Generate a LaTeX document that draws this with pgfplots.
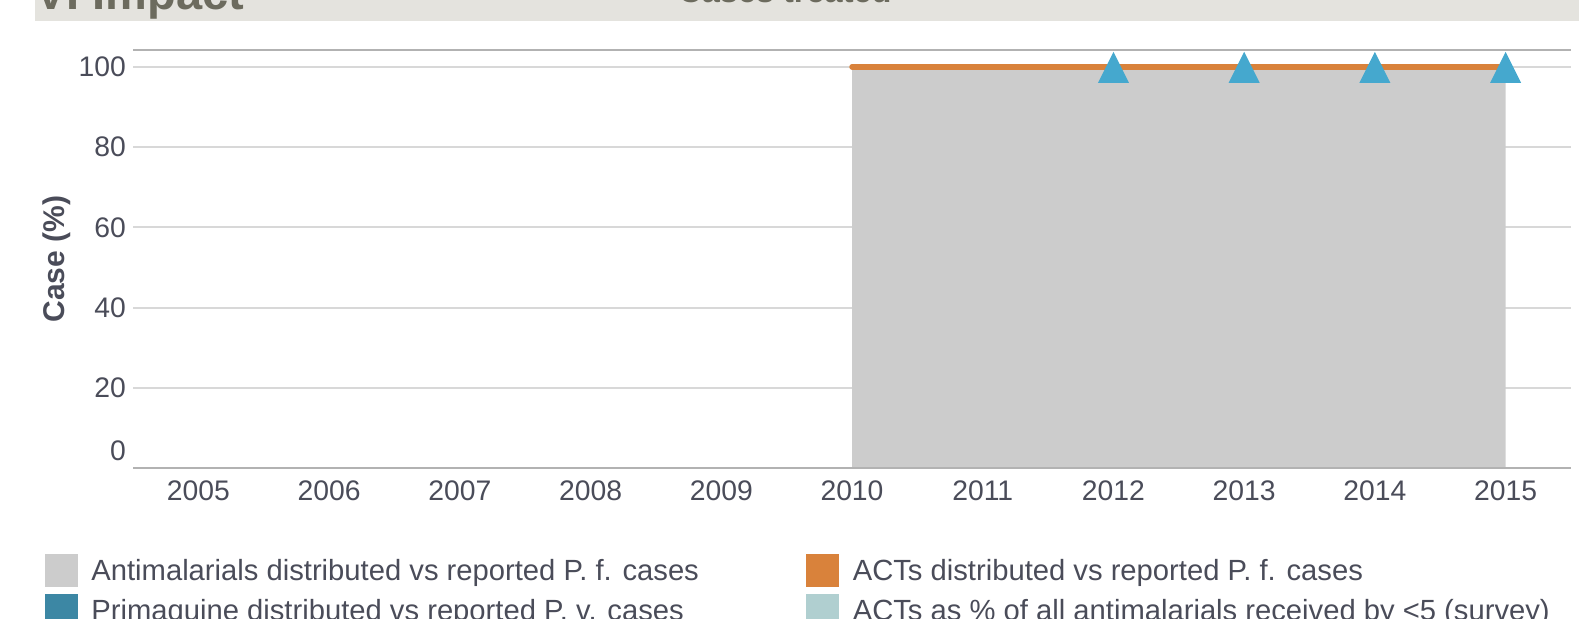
\documentclass[border=0pt]{standalone}
\usepackage{pgfplots}
\pgfplotsset{compat=1.18}
\usepackage{fontspec}
\setmainfont{Liberation Sans}
\definecolor{txt}{HTML}{4A4C59}
\definecolor{banner}{HTML}{E4E3DE}
\definecolor{bantxt}{HTML}{6C6B5E}
\definecolor{areagray}{HTML}{CCCCCC}
\definecolor{orangeL}{HTML}{D9823B}
\definecolor{triblue}{HTML}{45A8CE}
\definecolor{prim}{HTML}{3C87A4}
\definecolor{actsv}{HTML}{B0CFD0}
\definecolor{gridc}{HTML}{D8D8D8}
\definecolor{axc}{HTML}{B2B2B2}
\pgfdeclareplotmark{hctri}{%
  \pgfpathmoveto{\pgfpoint{0bp}{15bp}}%
  \pgfpathlineto{\pgfpoint{15.5bp}{-16bp}}%
  \pgfpathlineto{\pgfpoint{-15.5bp}{-16bp}}%
  \pgfpathclose
  \pgfusepathqfill}
\begin{document}
\begin{tikzpicture}
\useasboundingbox (0bp,0bp) rectangle (1579bp,619bp);
\clip (0bp,0bp) rectangle (1579bp,619bp);
\fill[banner] (35bp,598.3bp) rectangle (1579bp,619bp);
\node[anchor=base west, inner sep=0pt, font=\fontsize{47bp}{52bp}\selectfont\bfseries, text=bantxt] at (35bp,609.7bp) {VI Impact};
\node[anchor=base, inner sep=0pt, font=\fontsize{32.5bp}{37bp}\selectfont\bfseries, text=bantxt] at (785bp,616.3bp) {Cases treated};
\begin{axis}[
  at={(133bp,151bp)}, anchor=south west,
  scale only axis, width=1438bp, height=418bp,
  xmin=-0.5, xmax=10.5, ymin=0, ymax=104.2,
  axis line style={draw=none},
  major tick length=0pt,
  xtick={0,...,10},
  xticklabels={2005,2006,2007,2008,2009,2010,2011,2012,2013,2014,2015},
  ytick={20,40,60,80,100},
  extra y ticks={0},
  extra y tick style={yticklabel style={yshift=17bp}},
  ymajorgrids,
  grid style={gridc, line width=2bp},
  tick label style={font=\fontsize{28.3bp}{33bp}\selectfont, text=txt},
  xticklabel style={anchor=north, inner sep=0pt, yshift=-13bp},
  yticklabel style={anchor=east, inner sep=0pt, xshift=-7bp},
  /pgf/number format/assume math mode=true,
  ylabel={Case (\%)},
  every axis y label/.style={at={(axis description cs:-0.0529,0.5)}, rotate=90, anchor=center,
    font=\fontsize{30bp}{34bp}\selectfont\bfseries, text=txt},
  legend columns=2,
  legend cell align=left,
  legend style={at={(axis description cs:-0.0612,-0.2057)}, anchor=north west,
    draw=none, fill=none, inner sep=0pt, outer sep=0pt,
    font=\fontsize{29.2bp}{34bp}\selectfont, text=txt,
    nodes={inner sep=0pt, outer sep=0pt},
    row sep=8bp,
    /tikz/every odd column/.append style={column sep=14bp},
    /tikz/every even column/.append style={column sep=15bp}},
  after end axis/.code={
    \draw[axc, line width=2bp] (rel axis cs:0,0) -- (rel axis cs:1,0);
    \draw[axc, line width=2bp] (rel axis cs:0,1) -- (rel axis cs:1,1);
  },
]
\addplot[fill=areagray, draw=none, forget plot] coordinates {(5,100) (6,100) (7,100) (8,100) (9,100) (10,100)} \closedcycle;
\addplot[only marks, mark=hctri, mark options={fill=triblue, draw=none}, forget plot] coordinates {(7,100) (8,100) (9,100) (10,100)};
\addplot[orangeL, line width=5.5bp, line cap=round, forget plot] coordinates {(5,100) (6,100) (7,100) (8,100) (9,100) (10,100)};
\addlegendimage{legend image code/.code={\fill[areagray] (0bp,-16bp) rectangle (32bp,16bp);}}
\addlegendentry{\makebox[700bp][l]{Antimalarials distributed vs reported P. f. cases}}
\addlegendimage{legend image code/.code={\fill[orangeL] (0bp,-16bp) rectangle (32bp,16bp);}}
\addlegendentry{\makebox[700bp][l]{ACTs distributed vs reported P. f. cases}}
\addlegendimage{legend image code/.code={\fill[prim] (0bp,-16bp) rectangle (32bp,16bp);}}
\addlegendentry{\makebox[700bp][l]{Primaquine distributed vs reported P. v. cases}}
\addlegendimage{legend image code/.code={\fill[actsv] (0bp,-16bp) rectangle (32bp,16bp);}}
\addlegendentry{\makebox[700bp][l]{ACTs as \% of all antimalarials received by <5 (survey)}}
\end{axis}
\end{tikzpicture}
\end{document}
